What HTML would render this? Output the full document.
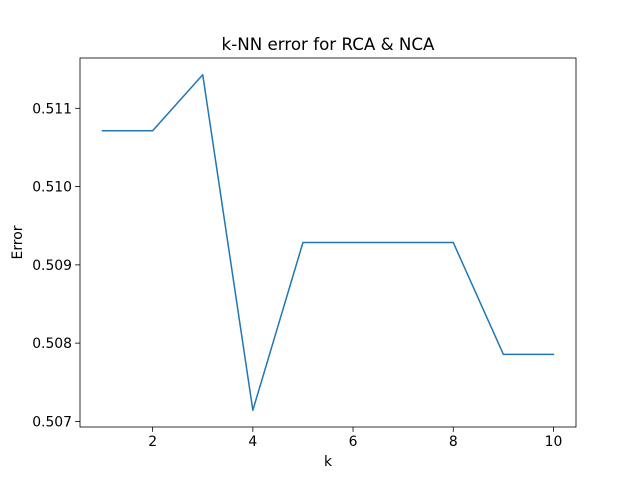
<!DOCTYPE html>
<html><head><meta charset="utf-8"><style>
body{margin:0;background:#fff;}
svg{display:block;font-family:"DejaVu Sans","Liberation Sans",sans-serif;}
</style></head><body>
<svg id="chart" width="640" height="480">
<rect width="640" height="480" fill="#fff"/>
<g id="plot"></g>
</svg>
<script>
const kValues=[1,2,3,4,5,6,7,8,9,10];
const errorValues=[0.510714,0.510714,0.511429,0.507143,0.509286,0.509286,0.509286,0.509286,0.507857,0.507857];
const xTicks=[2,4,6,8,10];
const yTicks=[0.507,0.508,0.509,0.510,0.511];
const L=80,R=576,T=58,B=427;
const xmin=0.55,xmax=10.45,ymin=0.5069285,ymax=0.5116429;
const sx=v=>L+(v-xmin)/(xmax-xmin)*(R-L);
const sy=v=>B-(v-ymin)/(ymax-ymin)*(B-T);
const ns="http://www.w3.org/2000/svg";
const g=document.getElementById('plot');
function mk(t,a,txt){const e=document.createElementNS(ns,t);for(const k in a)e.setAttribute(k,a[k]);if(txt!==undefined)e.textContent=txt;g.appendChild(e);return e;}
const pts=kValues.map((k,i)=>sx(k)+','+sy(errorValues[i])).join(' ');
const line=mk('polyline',{points:pts,fill:'none',stroke:'#1f77b4','stroke-width':1.5,'stroke-linejoin':'round','stroke-linecap':'square'});


xTicks.forEach(v=>{
 const x=sx(v);
 const t=mk('line',{x1:x,x2:x,y1:B,y2:B+4.9,stroke:'#000','stroke-width':0.8});
 
 
 const l=mk('text',{x:x,y:B+19,'font-size':13.9,'text-anchor':'middle',fill:'#000'},String(v));
 
 
});
yTicks.forEach(v=>{
 const y=sy(v);
 const t=mk('line',{x1:L-4.9,x2:L,y1:y,y2:y,stroke:'#000','stroke-width':0.8});
 
 
 const l=mk('text',{x:L-8,y:y+5,'font-size':13.9,'text-anchor':'end',fill:'#000'},v.toFixed(3));
 
 
});
const frame=mk('rect',{x:L,y:T,width:R-L,height:B-T,fill:'none',stroke:'#000','stroke-width':0.8});


const title=mk('text',{x:(L+R)/2,y:T-8,'font-size':16.7,'text-anchor':'middle'},'k-NN error for RCA & NCA');


const xl=mk('text',{x:(L+R)/2,y:466,'font-size':13.9,'text-anchor':'middle'},'k');


const yl=mk('text',{x:22,y:(T+B)/2,'font-size':13.9,'text-anchor':'middle',transform:'rotate(-90 22 '+((T+B)/2)+')'},'Error');


</script>
</body></html>
